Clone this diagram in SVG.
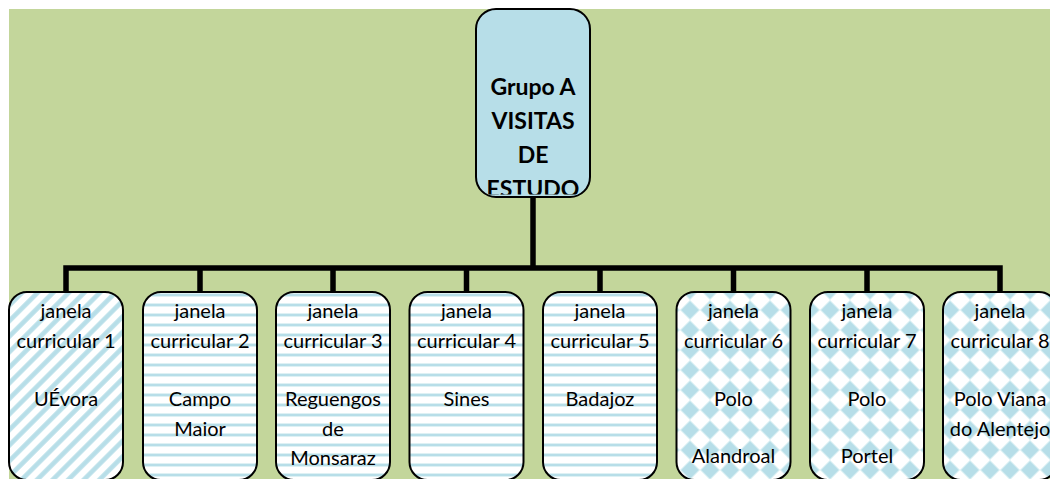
<svg xmlns="http://www.w3.org/2000/svg" width="1050" height="479" viewBox="0 0 1050 479">
  <style>
    .box { stroke: #000; stroke-width: 2; }
    .root { fill: #b7dee8; }
    .t { font-family: Lato, "Open Sans", "Liberation Sans", sans-serif; font-size: 20px; fill: #000; text-anchor: middle; }
    .tb { font-family: Lato, "Open Sans", "Liberation Sans", sans-serif; font-size: 23px; font-weight: bold; fill: #000; text-anchor: middle; }
    .link { fill: none; stroke: #000; stroke-width: 5.5; stroke-linejoin: miter; }
  </style>
  <defs>
    <!-- wide upward diagonal -->
    <pattern id="diag" width="11" height="11" patternUnits="userSpaceOnUse" patternTransform="rotate(-45)">
      <rect width="11" height="11" fill="#ffffff"/>
      <rect y="0" width="11" height="5" fill="#c4e4ec"/>
      <rect y="1" width="11" height="3" fill="#b7dee8"/>
    </pattern>
    <!-- narrow horizontal lines -->
    <pattern id="hstripe" width="10" height="10" patternUnits="userSpaceOnUse">
      <rect width="10" height="10" fill="#ffffff"/>
      <rect y="3" width="10" height="4" fill="#def1f4"/>
      <rect y="4" width="10" height="2" fill="#b7dee8"/>
    </pattern>
    <!-- diamond checker -->
    <pattern id="diamond" width="20" height="20" patternUnits="userSpaceOnUse">
      <rect width="20" height="20" fill="#ffffff"/>
      <polygon points="10,0 20,10 10,20 0,10" fill="#d4edf2"/>
      <polygon points="10,1.5 18.5,10 10,18.5 1.5,10" fill="#b7dee8"/>
    </pattern>
    <clipPath id="rootClip">
      <rect x="477" y="10" width="112" height="184.5" rx="12" ry="12"/>
    </clipPath>
  </defs>

  <rect x="9" y="9" width="1041" height="470" fill="#c3d69b"/>

  <g id="connectors">
    <path class="link" d="M533 196 V268"/>
    <path class="link" d="M66 292 V268 H1000 V292"/>
    <path class="link" d="M200 268 V292 M333 268 V292 M466.5 268 V292 M600 268 V292 M733.5 268 V292 M867 268 V292"/>
  </g>

  <g id="root">
    <rect class="box root" x="476" y="9" width="114" height="188" rx="20" ry="20"/>
    <g clip-path="url(#rootClip)">
      <text class="tb" x="533" y="95">Grupo A</text>
      <text class="tb" x="533" y="129">VISITAS</text>
      <text class="tb" x="533" y="163">DE</text>
      <text class="tb" x="533" y="197">ESTUDO</text>
    </g>
  </g>

  <g id="jc1">
    <rect class="box" x="9" y="292" width="114" height="188" rx="18" ry="18" fill="url(#diag)"/>
    <text class="t" x="66" y="318">janela</text>
    <text class="t" x="66" y="348">curricular 1</text>
    <text class="t" x="66" y="406">UÉvora</text>
  </g>
  <g id="jc2">
    <rect class="box" x="143" y="292" width="114" height="188" rx="18" ry="18" fill="url(#hstripe)"/>
    <text class="t" x="200" y="318">janela</text>
    <text class="t" x="200" y="348">curricular 2</text>
    <text class="t" x="200" y="406">Campo</text>
    <text class="t" x="200" y="436">Maior</text>
  </g>
  <g id="jc3">
    <rect class="box" x="276" y="292" width="114" height="188" rx="18" ry="18" fill="url(#hstripe)"/>
    <text class="t" x="333" y="318">janela</text>
    <text class="t" x="333" y="348">curricular 3</text>
    <text class="t" x="333" y="406">Reguengos</text>
    <text class="t" x="333" y="436">de</text>
    <text class="t" x="333" y="465">Monsaraz</text>
  </g>
  <g id="jc4">
    <rect class="box" x="409.5" y="292" width="114" height="188" rx="18" ry="18" fill="url(#hstripe)"/>
    <text class="t" x="466.5" y="318">janela</text>
    <text class="t" x="466.5" y="348">curricular 4</text>
    <text class="t" x="466.5" y="406">Sines</text>
  </g>
  <g id="jc5">
    <rect class="box" x="543" y="292" width="114" height="188" rx="18" ry="18" fill="url(#hstripe)"/>
    <text class="t" x="600" y="318">janela</text>
    <text class="t" x="600" y="348">curricular 5</text>
    <text class="t" x="600" y="406">Badajoz</text>
  </g>
  <g id="jc6">
    <rect class="box" x="676.5" y="292" width="114" height="188" rx="18" ry="18" fill="url(#diamond)"/>
    <text class="t" x="733.5" y="318">janela</text>
    <text class="t" x="733.5" y="348">curricular 6</text>
    <text class="t" x="733.5" y="406">Polo</text>
    <text class="t" x="733.5" y="463">Alandroal</text>
  </g>
  <g id="jc7">
    <rect class="box" x="810" y="292" width="114" height="188" rx="18" ry="18" fill="url(#diamond)"/>
    <text class="t" x="867" y="318">janela</text>
    <text class="t" x="867" y="348">curricular 7</text>
    <text class="t" x="867" y="406">Polo</text>
    <text class="t" x="867" y="463">Portel</text>
  </g>
  <g id="jc8">
    <rect class="box" x="943" y="292" width="114" height="188" rx="18" ry="18" fill="url(#diamond)"/>
    <text class="t" x="1000" y="318">janela</text>
    <text class="t" x="1000" y="348">curricular 8</text>
    <text class="t" x="1000" y="406">Polo Viana</text>
    <text class="t" x="1000" y="436">do Alentejo</text>
  </g>
</svg>
